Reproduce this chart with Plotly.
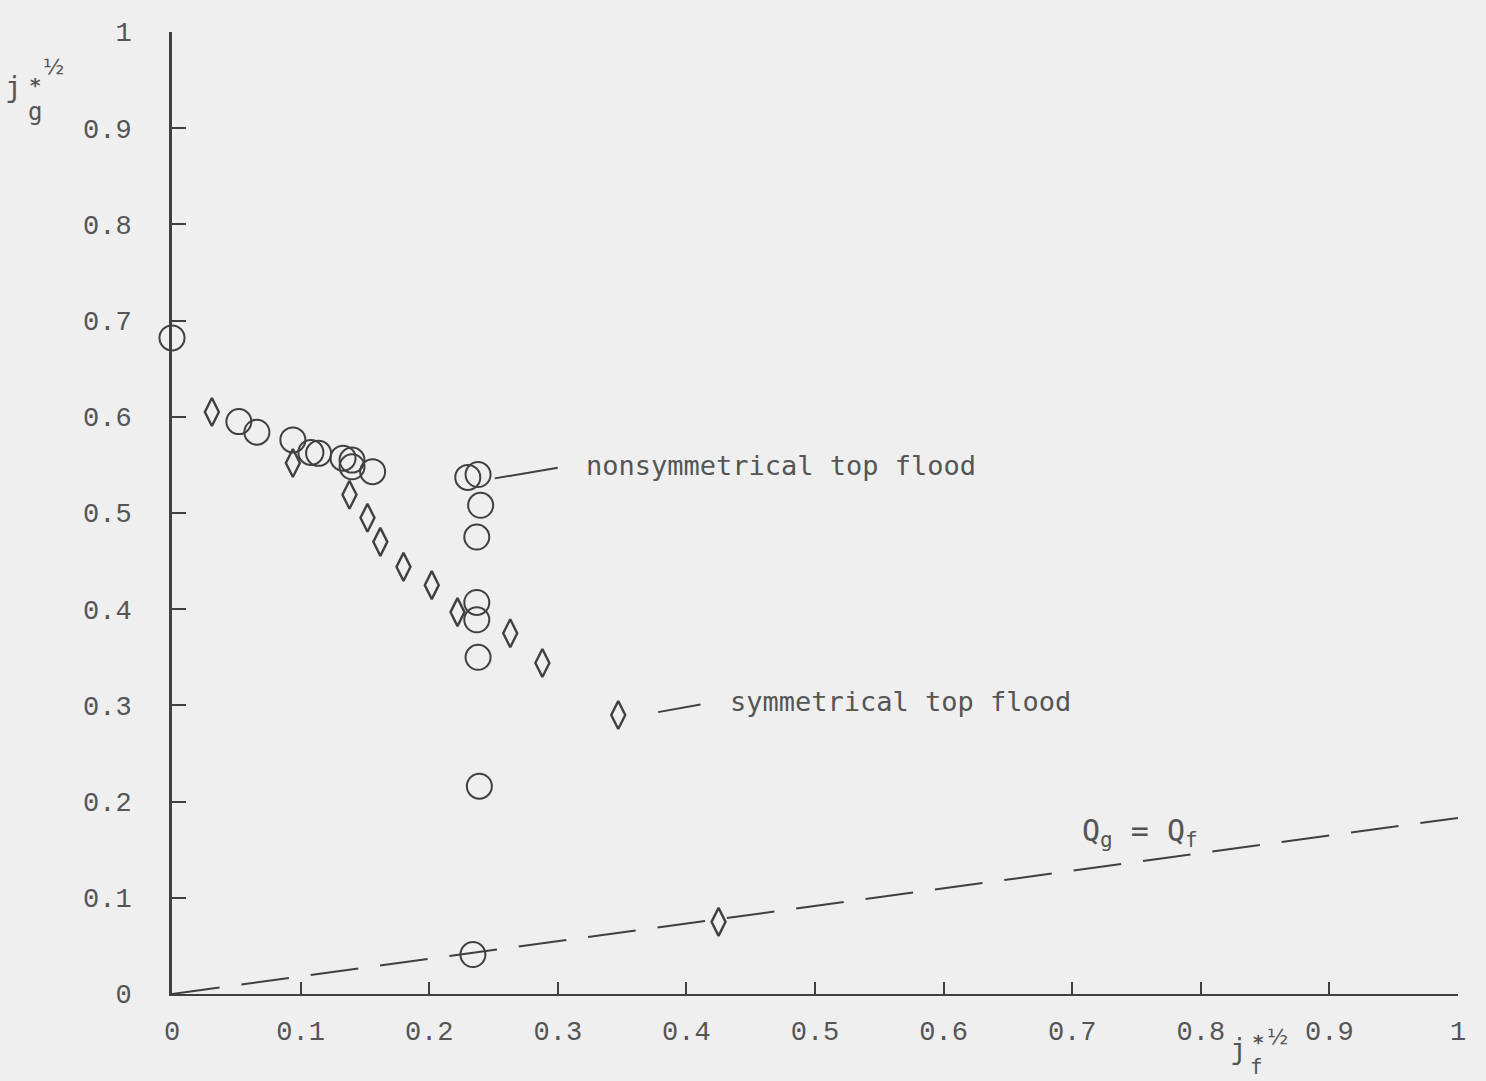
import plotly.graph_objects as go

# Flooding data: dimensionless gas vs liquid velocity (square roots)
nonsym_x = [0.0, 0.052, 0.066, 0.094, 0.108, 0.114, 0.133, 0.140, 0.140, 0.156,
            0.230, 0.238, 0.240, 0.237, 0.237, 0.237, 0.238, 0.239, 0.234]
nonsym_y = [0.682, 0.595, 0.584, 0.576, 0.563, 0.562, 0.557, 0.555, 0.548, 0.543,
            0.537, 0.540, 0.508, 0.475, 0.407, 0.389, 0.350, 0.216, 0.041]

sym_x = [0.031, 0.094, 0.138, 0.152, 0.162, 0.180, 0.202, 0.222, 0.263, 0.288, 0.347, 0.425]
sym_y = [0.605, 0.552, 0.519, 0.495, 0.470, 0.444, 0.425, 0.397, 0.375, 0.344, 0.290, 0.075]

# Equal volumetric flow line Qg = Qf
equal_x = [0.0, 1.0]
equal_y = [0.0, 0.183]

tick_vals = [0, 0.1, 0.2, 0.3, 0.4, 0.5, 0.6, 0.7, 0.8, 0.9, 1]
tick_text = ["0", "0.1", "0.2", "0.3", "0.4", "0.5", "0.6", "0.7", "0.8", "0.9", "1"]

INK = "#404040"
TEXT = "#555555"
BG = "#efefef"

fig = go.Figure()

fig.add_trace(go.Scatter(
    x=equal_x, y=equal_y, mode="lines",
    line=dict(color=INK, width=2, dash="48px,22px"),
    showlegend=False, hoverinfo="skip"))

fig.add_trace(go.Scatter(
    x=nonsym_x, y=nonsym_y, mode="markers", name="nonsymmetrical top flood",
    marker=dict(symbol="circle-open", size=25, color=INK, line=dict(width=2, color=INK)),
    cliponaxis=False, showlegend=False))

fig.add_trace(go.Scatter(
    x=sym_x, y=sym_y, mode="markers", name="symmetrical top flood",
    marker=dict(symbol="diamond-tall-open", size=20, color=INK, line=dict(width=2.4, color=INK)),
    cliponaxis=False, showlegend=False))

# Leader lines from the series to their labels
fig.add_shape(type="line", xref="x", yref="y", x0=0.251, y0=0.536, x1=0.300, y1=0.547,
              line=dict(color=INK, width=2))
fig.add_shape(type="line", xref="x", yref="y", x0=0.378, y0=0.293, x1=0.411, y1=0.301,
              line=dict(color=INK, width=2))

mono = "DejaVu Sans Mono"
ann = [
    dict(x=0.320, y=0.549, xref="x", yref="y", text="nonsymmetrical top flood",
         xanchor="left", yanchor="middle", showarrow=False,
         font=dict(family=mono, size=27, color=TEXT)),
    dict(x=0.432, y=0.304, xref="x", yref="y", text="symmetrical top flood",
         xanchor="left", yanchor="middle", showarrow=False,
         font=dict(family=mono, size=27, color=TEXT)),
    dict(x=0.706, y=0.168, xref="x", yref="y", text="Q<sub>g</sub> = Q<sub>f</sub>",
         xanchor="left", yanchor="middle", showarrow=False,
         font=dict(family=mono, size=30, color=TEXT)),
]

# Axis symbols j*^(1/2) with subscripts g and f, built from stacked pieces
def axis_symbol(jx, jy, sub, sx, sy, hx, hy, bx, by, subsize):
    return [
        dict(x=jx, y=jy, xref="paper", yref="paper", text="j", showarrow=False,
             xanchor="center", yanchor="middle", font=dict(family=mono, size=28, color=TEXT)),
        dict(x=sx, y=sy, xref="paper", yref="paper", text="*", showarrow=False,
             xanchor="center", yanchor="middle",
             font=dict(family="DejaVu Sans", size=20, color=TEXT, weight="bold")),
        dict(x=hx, y=hy, xref="paper", yref="paper", text="½", showarrow=False,
             xanchor="center", yanchor="middle", font=dict(family="DejaVu Sans", size=22, color=TEXT)),
        dict(x=bx, y=by, xref="paper", yref="paper", text=sub, showarrow=False,
             xanchor="center", yanchor="middle", font=dict(family=mono, size=subsize, color=TEXT)),
    ]

ann += axis_symbol(-0.1229, 0.9418, "g", -0.1065, 0.945, -0.092, 0.964, -0.1065, 0.9168, 24)
ann += axis_symbol(0.8297, -0.0582, "f", 0.8445, -0.050, 0.8595, -0.0440, 0.8437, -0.0762, 21)

tickfont = dict(family="Liberation Mono", size=27, color=TEXT)

fig.update_layout(
    width=1486, height=1081,
    margin=dict(l=172, r=28, t=32, b=87),
    paper_bgcolor=BG, plot_bgcolor=BG,
    annotations=ann,
    xaxis=dict(range=[0, 1], tickvals=tick_vals, ticktext=tick_text,
               showgrid=False, zeroline=False, showline=True, linecolor=INK, linewidth=2,
               ticks="inside", ticklen=12, tickwidth=2, tickcolor=INK,
               tickfont=tickfont, ticklabelstandoff=12),
    yaxis=dict(range=[0, 1], tickvals=tick_vals, ticktext=tick_text,
               showgrid=False, zeroline=False, showline=True, linecolor=INK, linewidth=3,
               ticks="inside", ticklen=14, tickwidth=2, tickcolor=INK,
               tickfont=tickfont, ticklabelstandoff=32),
)

fig.write_html("out.html")
